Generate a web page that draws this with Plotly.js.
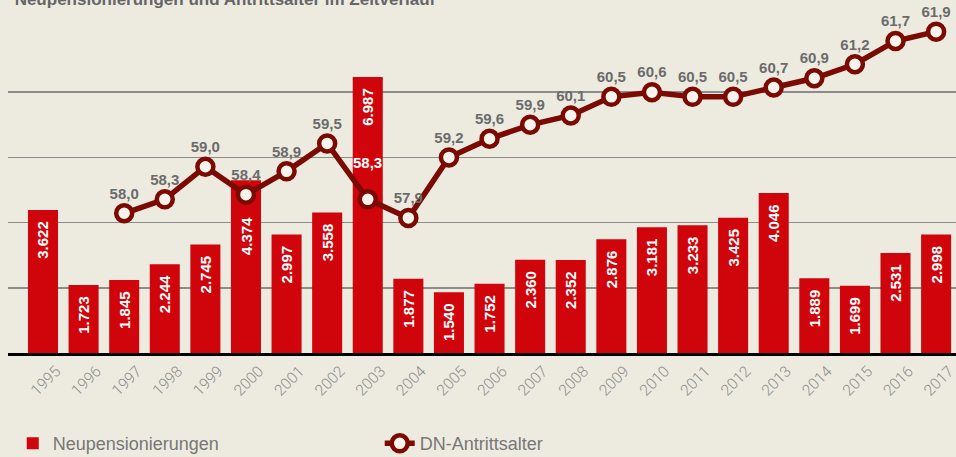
<!DOCTYPE html>
<html>
<head>
<meta charset="utf-8">
<script src="https://cdn.plot.ly/plotly-3.0.1.min.js"></script>
<style>
html, body { margin: 0; padding: 0; background: #edebe0; }
#chart { width: 956px; height: 457px; }
</style>
</head>
<body>
<div id="chart"></div>
<script>
const years = ['1995','1996','1997','1998','1999','2000','2001','2002','2003','2004','2005','2006','2007','2008','2009','2010','2011','2012','2013','2014','2015','2016','2017'];
const neupensionierungen = [3622,1723,1845,2244,2745,4374,2997,3558,6987,1877,1540,1752,2360,2352,2876,3181,3233,3425,4046,1889,1699,2531,2998];
const antrittsalter = [null,null,58.0,58.3,59.0,58.4,58.9,59.5,58.3,57.9,59.2,59.6,59.9,60.1,60.5,60.6,60.5,60.5,60.7,60.9,61.2,61.7,61.9];
// year whose age label is drawn in white, raised above the bar (inside the 2003 bar)
const whiteLabelYear = '2003';
// year whose bar label is pushed further down to clear the line marker
const loweredBarLabelYear = '2000';

const FONT = 'Liberation Sans, Arial, sans-serif';
const fmtAge = v => v.toFixed(1).replace('.', ',');
const fmtCount = v => {
  const s = String(v);
  return s.length > 3 ? s.slice(0, s.length - 3) + '.' + s.slice(-3) : s;
};

const lineText = antrittsalter.map((v, i) => (v == null || years[i] === whiteLabelYear) ? '' : fmtAge(v));
const wi = years.indexOf(whiteLabelYear);
const li = years.indexOf(loweredBarLabelYear);
const barText = neupensionierungen.map((v, i) => i === li ? '' : fmtCount(v) + '\u00a0\u00a0');

const bars = {
  type: 'bar',
  name: 'Neupensionierungen',
  x: years,
  y: neupensionierungen,
  marker: { color: '#d0050c' },
  text: barText,
  texttemplate: '%{text}',
  textposition: 'inside',
  insidetextanchor: 'end',
  textangle: -90,
  insidetextfont: { family: FONT, size: 15, color: '#ffffff', weight: 'bold' },
  hoverinfo: 'skip'
};

const line = {
  type: 'scatter',
  mode: 'lines+markers+text',
  name: 'DN-Antrittsalter',
  x: years,
  y: antrittsalter,
  yaxis: 'y2',
  line: { color: '#7b0a02', width: 5.5 },
  marker: { size: 16, color: '#f6f4ec', line: { color: '#7b0a02', width: 4.5 } },
  text: lineText,
  texttemplate: '%{text}',
  textposition: 'top center',
  textfont: { family: FONT, size: 15, color: '#6b6b6b', weight: 'bold' },
  cliponaxis: false,
  hoverinfo: 'skip'
};

const layout = {
  width: 956,
  height: 457,
  paper_bgcolor: '#edebe0',
  plot_bgcolor: '#edebe0',
  separators: ',.',
  margin: { l: 8, r: 0, t: 27, b: 104, autoexpand: false },
  bargap: 0.26,
  showlegend: true,
  title: {
    text: 'Neupensionierungen und Antrittsalter im Zeitverlauf',
    font: { family: FONT, size: 17, color: '#666666', weight: 'bold' },
    x: 0.007, xanchor: 'left', xref: 'paper',
    y: 0.988, yanchor: 'bottom', yref: 'container'
  },
  xaxis: {
    type: 'category',
    range: [-0.862, 22.49],
    showgrid: false,
    showline: true,
    linecolor: '#000000',
    linewidth: 3,
    ticks: '',
    tickangle: -45,
    ticklabelshift: 13,
    ticklabelstandoff: 0,
    tickfont: { family: 'Roboto, Liberation Sans, sans-serif', size: 15.5, color: '#8f8f8f', weight: 300 },
    fixedrange: true
  },
  yaxis: {
    range: [0, 8250],
    dtick: 1650,
    showticklabels: false,
    showgrid: true,
    gridcolor: '#8c8c8c',
    gridwidth: 1.5,
    zeroline: false,
    fixedrange: true
  },
  yaxis2: {
    overlaying: 'y',
    range: [55, 62],
    showgrid: false,
    showticklabels: false,
    zeroline: false,
    fixedrange: true
  },
  legend: {
    orientation: 'h',
    x: 0.005, xanchor: 'left',
    y: -0.278, yanchor: 'middle',
    entrywidth: 322,
    font: { family: FONT, size: 18, color: '#777777' },
    bgcolor: 'rgba(0,0,0,0)'
  },
  annotations: [{
    x: wi,
    y: antrittsalter[wi],
    xref: 'x', yref: 'y2',
    text: fmtAge(antrittsalter[wi]),
    showarrow: false,
    yshift: 37,
    font: { family: FONT, size: 15, color: '#ffffff', weight: 'bold' }
  }, {
    x: li,
    y: neupensionierungen[li],
    xref: 'x', yref: 'y',
    text: fmtCount(neupensionierungen[li]),
    showarrow: false,
    textangle: -90,
    yanchor: 'top',
    yshift: -35,
    font: { family: FONT, size: 15, color: '#ffffff', weight: 'bold' }
  }]
};

Plotly.newPlot('chart', [bars, line], layout, { displayModeBar: false, staticPlot: true });
</script>
</body>
</html>
